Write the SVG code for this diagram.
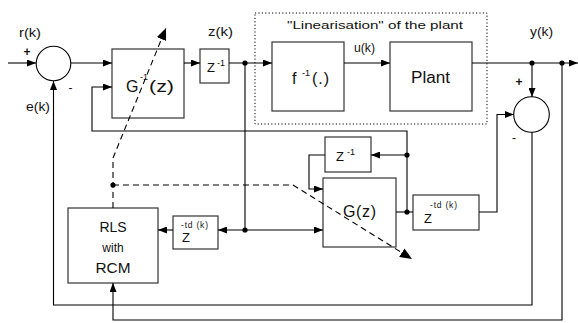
<svg xmlns="http://www.w3.org/2000/svg" width="578" height="323" viewBox="0 0 578 323">
<defs>
<marker id="arr" markerUnits="userSpaceOnUse" markerWidth="9" markerHeight="7" refX="9" refY="3.5" orient="auto"><path d="M0,0 L9,3.5 L0,7 z" fill="#000"/></marker>
<marker id="darr" markerUnits="userSpaceOnUse" markerWidth="12" markerHeight="10" refX="12" refY="5" orient="auto"><path d="M0,0 L12,5 L0,10 z" fill="#000"/></marker>
</defs>
<style>
.box{fill:#fff;stroke:#333;stroke-width:1.2}
.ln{fill:none;stroke:#000;stroke-width:1.1}
.dash{fill:none;stroke:#000;stroke-width:1.1;stroke-dasharray:6,4}
.dot{fill:#000}
text{font-family:"Liberation Sans",Arial,sans-serif;fill:#111}
.t16{font-size:16px}
.t13{font-size:13px}
.t12{font-size:12px}
.sup{font-size:9px}
.sm{font-size:8.5px}
</style>
<rect width="578" height="323" fill="#fff"/>

<g id="linearisation">
<rect x="255" y="13" width="232" height="111" fill="none" stroke="#000" stroke-width="1" stroke-dasharray="1.2,2.2"/>
<text x="287" y="29" font-size="11" textLength="176" lengthAdjust="spacingAndGlyphs">"Linearisation" of the plant</text>
</g>

<g id="sum1">
<circle cx="53.5" cy="63.5" r="17.3" fill="none" stroke="#000" stroke-width="1.1"/>
<text x="27" y="56" font-size="12" font-weight="bold" text-anchor="middle">+</text>
<text x="70.5" y="92" font-size="12" text-anchor="middle">-</text>
</g>

<g id="sum2">
<circle cx="531.5" cy="114.5" r="17.8" fill="none" stroke="#000" stroke-width="1.1"/>
<text x="519" y="86" font-size="12" font-weight="bold" text-anchor="middle">+</text>
<text x="514" y="142" font-size="12" text-anchor="middle">-</text>
</g>

<g id="labels">
<text class="t12" x="19" y="37" textLength="22" lengthAdjust="spacingAndGlyphs">r(k)</text>
<text class="t12" x="26" y="111" textLength="24" lengthAdjust="spacingAndGlyphs">e(k)</text>
<text class="t12" x="208" y="36" textLength="25" lengthAdjust="spacingAndGlyphs">z(k)</text>
<text class="t12" x="354" y="52" textLength="21" lengthAdjust="spacingAndGlyphs">u(k)</text>
<text class="t12" x="530" y="36" textLength="23" lengthAdjust="spacingAndGlyphs">y(k)</text>
</g>

<g id="ginv">
<rect class="box" x="112" y="49" width="72" height="69"/>
<text class="t16" x="126" y="92">G</text>
<text class="sup" x="140" y="80">-1</text>
<text class="t16" x="149" y="92" textLength="25" lengthAdjust="spacingAndGlyphs">(z)</text>
</g>

<g id="zinv1">
<rect class="box" x="200" y="49" width="29" height="34"/>
<text class="t13" x="207" y="72">Z</text>
<text class="sup" x="217" y="66">-1</text>
</g>

<g id="finv">
<rect class="box" x="272" y="42" width="72" height="69"/>
<text class="t16" x="292" y="84">f</text>
<text class="sup" x="302" y="76">-1</text>
<text class="t16" x="312" y="84" textLength="17">(.)</text>
</g>

<g id="plant">
<rect class="box" x="390" y="42" width="82" height="69"/>
<text class="t16" x="411" y="82.5" textLength="39" lengthAdjust="spacingAndGlyphs">Plant</text>
</g>

<g id="zinv2">
<rect class="box" x="325" y="137" width="46" height="35"/>
<text class="t13" x="336" y="161">Z</text>
<text class="sup" x="347" y="155">-1</text>
</g>

<g id="gz">
<rect class="box" x="323" y="178" width="73" height="69"/>
<text class="t16" x="343" y="217" textLength="33">G(z)</text>
</g>

<g id="ztd_right">
<rect class="box" x="413" y="195" width="66" height="35"/>
<text class="t13" x="424" y="223">Z</text>
<text class="sm" x="430" y="208" textLength="27">-td (k)</text>
</g>

<g id="ztd_left">
<rect class="box" x="173" y="216" width="45" height="33"/>
<text class="t13" x="182" y="242">Z</text>
<text class="sm" x="181" y="227.5" textLength="27">-td (k)</text>
</g>

<g id="rls">
<rect class="box" x="68" y="208" width="90" height="75"/>
<text font-size="14" x="113" y="232" text-anchor="middle">RLS</text>
<text class="t12" x="113" y="252" text-anchor="middle">with</text>
<text font-size="14" x="113" y="273" text-anchor="middle" textLength="35" lengthAdjust="spacingAndGlyphs">RCM</text>
</g>

<g id="connectors">
<path class="ln" d="M8,63 H36" marker-end="url(#arr)"/>
<path class="ln" d="M71,63 H112" marker-end="url(#arr)"/>
<path class="ln" d="M184,63 H200" marker-end="url(#arr)"/>
<path class="ln" d="M229,63 H272" marker-end="url(#arr)"/>
<path class="ln" d="M344,63 H390" marker-end="url(#arr)"/>
<path class="ln" d="M472,63 H578" marker-end="url(#arr)"/>
<path class="ln" d="M532,63 V97" marker-end="url(#arr)"/>
<path class="ln" d="M532,132 V305 H53.5 V81" marker-end="url(#arr)"/>
<path class="ln" d="M562,63 V320 H113 V283" marker-end="url(#arr)"/>
<path class="ln" d="M245,63 V230 H218" marker-end="url(#arr)"/>
<path class="ln" d="M173,230 H158" marker-end="url(#arr)"/>
<path class="ln" d="M245,230 H323" marker-end="url(#arr)"/>
<path class="ln" d="M396,212 H413"/>
<path class="ln" d="M407,212 V131 H92 V87 H112" marker-end="url(#arr)"/>
<path class="ln" d="M407,155 H371" marker-end="url(#arr)"/>
<path class="ln" d="M325,155 H309 V189 H323" marker-end="url(#arr)"/>
<path class="ln" d="M479,212 H497 V114.5 H514" marker-end="url(#arr)"/>
<path class="dash" d="M113,208 V158 L166,28" marker-end="url(#darr)"/>
<path class="dash" d="M113,185 H293 L412,259" marker-end="url(#darr)"/>
<circle class="dot" cx="245" cy="63" r="2.6"/>
<circle class="dot" cx="532" cy="63" r="2.6"/>
<circle class="dot" cx="562" cy="63" r="2.6"/>
<circle class="dot" cx="245" cy="230" r="2.6"/>
<circle class="dot" cx="407" cy="212" r="2.6"/>
<circle class="dot" cx="407" cy="155" r="2.6"/>
<circle class="dot" cx="113" cy="185" r="2.6"/>
</g>
</svg>
